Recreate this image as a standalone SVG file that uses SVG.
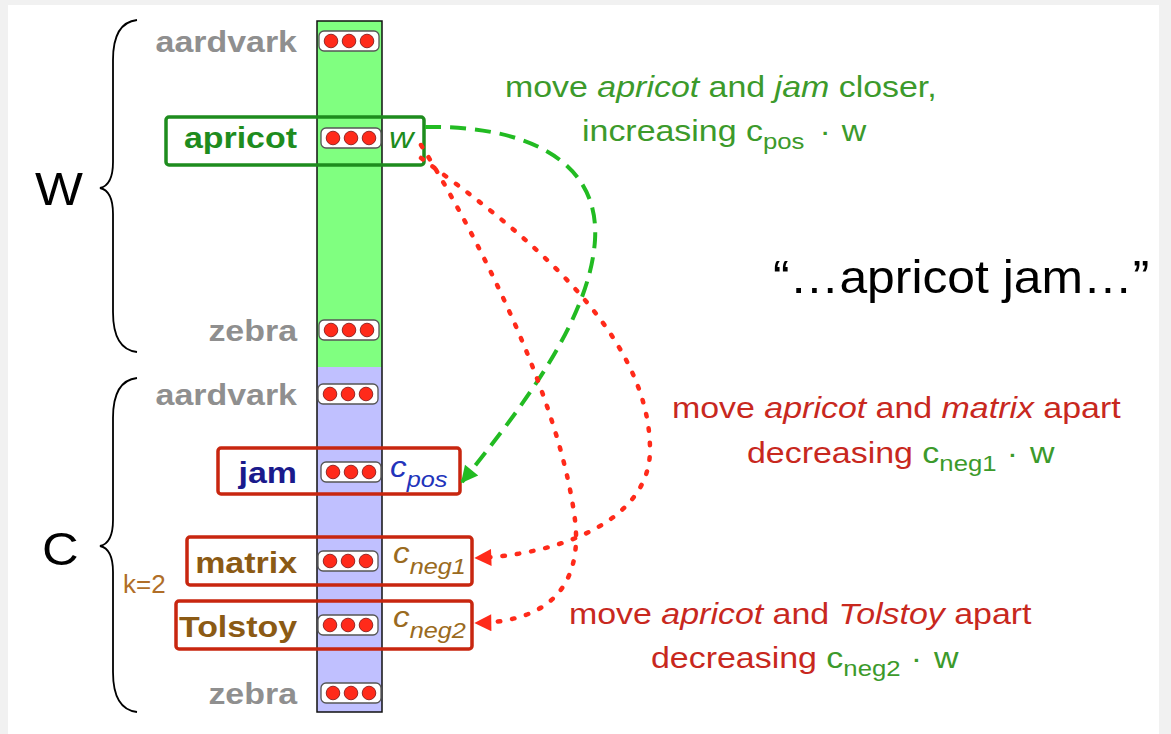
<svg xmlns="http://www.w3.org/2000/svg" width="1171" height="734" viewBox="0 0 1171 734">
<style>
text{font-family:"Liberation Sans",Arial,Helvetica,sans-serif}
.word{font-size:29px;font-weight:bold;text-anchor:end}
.gray{fill:#8f8f8f}
.lbl{font-size:29px}
.g{fill:#3c9a2b}
.r{fill:#c8281e}
.it{font-style:italic}
.sub{font-size:22px}
.box{fill:none;stroke-width:3.5}
.col{stroke:#111;stroke-width:1.5}
.brace{fill:none;stroke:#000;stroke-width:1.8}
.dot{fill:#ff2a1a;stroke:#7a1010;stroke-width:0.8}
.pillbg{fill:#fff;stroke:#555;stroke-width:1.3}
.pos{fill:none;stroke:#22bb22;stroke-width:4;stroke-dasharray:16 9}
.neg{fill:none;stroke:#ff2a1a;stroke-width:4.5;stroke-dasharray:2.5 12;stroke-linecap:round}
</style>
<defs>
<g id="pill">
<rect class="pillbg" x="-30" y="-10" width="60" height="20" rx="5"/>
<circle class="dot" cx="-18" cy="0" r="6.8"/>
<circle class="dot" cx="0" cy="0" r="6.8"/>
<circle class="dot" cx="18" cy="0" r="6.8"/>
</g>
<marker id="ag" viewBox="0 0 10 10" refX="9" refY="5" markerWidth="22" markerHeight="17" markerUnits="userSpaceOnUse" orient="auto">
<path d="M0,0 L10,5 L0,10 z" fill="#22bb22"/>
</marker>
<marker id="ar" viewBox="0 0 10 10" refX="9" refY="5" markerWidth="22" markerHeight="17" markerUnits="userSpaceOnUse" orient="auto">
<path d="M0,0 L10,5 L0,10 z" fill="#ff2a1a"/>
</marker>
</defs>
<rect x="0" y="0" width="1171" height="734" fill="#f1f1f1"/>
<rect x="8" y="5" width="1151" height="729" fill="#fff"/>

<g id="column">
<rect x="317" y="21" width="65" height="346" fill="#80ff80"/>
<rect x="317" y="367" width="65" height="345" fill="#c0c0ff"/>
<rect class="col" x="317" y="21" width="65" height="691" fill="none"/>
</g>

<g id="brace-W">
<path class="brace" d="M137,20 C119,22 113,38 113,60 L113,162 C113,178 109,186 100,188 C109,190 113,198 113,214 L113,312 C113,334 119,350 137,352"/>
<text font-size="47" transform="translate(35 205) scale(1.08 1)">W</text>
</g>
<g id="brace-C">
<path class="brace" d="M137,378 C119,380 113,396 113,418 L113,520 C113,536 109,544 100,546 C109,548 113,556 113,572 L113,672 C113,694 119,710 137,712"/>
<text font-size="47" transform="translate(42 565) scale(1.08 1)">C</text>
<text font-size="26" x="123" y="593" fill="#b06e28">k=2</text>
</g>

<g id="w-aardvark">
<text class="word gray" transform="translate(297 52) scale(1.17 1)">aardvark</text>
<use href="#pill" x="349" y="41"/>
</g>
<g id="w-apricot">
<rect class="box" x="166" y="117" width="258" height="48" rx="3" stroke="#1e8c1e"/>
<text class="word" fill="#1e8c1e" transform="translate(297 148) scale(1.17 1)">apricot</text>
<use href="#pill" x="351" y="138"/>
<text class="lbl it" fill="#1e8c1e" transform="translate(389 148) scale(1.17 1)">w</text>
</g>
<g id="w-zebra">
<text class="word gray" transform="translate(297 341) scale(1.17 1)">zebra</text>
<use href="#pill" x="349" y="330"/>
</g>
<g id="c-aardvark">
<text class="word gray" transform="translate(297 405) scale(1.17 1)">aardvark</text>
<use href="#pill" x="348" y="394"/>
</g>
<g id="c-jam">
<rect class="box" x="218" y="448" width="242" height="46" rx="3" stroke="#c8260f"/>
<text class="word" fill="#1a1a8c" transform="translate(297 483) scale(1.17 1)">jam</text>
<use href="#pill" x="351" y="472"/>
<text class="it" fill="#2233bb" font-size="29" transform="translate(390 477) scale(1.15 1)">c<tspan class="sub" dy="10">pos</tspan></text>
</g>
<g id="c-matrix">
<rect class="box" x="187" y="537" width="285" height="48" rx="3" stroke="#c8260f"/>
<text class="word" fill="#8b5a14" transform="translate(297 573) scale(1.17 1)">matrix</text>
<use href="#pill" x="348" y="561"/>
<text class="it" fill="#9a6a20" font-size="29" transform="translate(393 563) scale(1.15 1)">c<tspan class="sub" dy="11">neg1</tspan></text>
</g>
<g id="c-tolstoy">
<rect class="box" x="176" y="601" width="296" height="48" rx="3" stroke="#c8260f"/>
<text class="word" fill="#8b5a14" transform="translate(297 637) scale(1.17 1)">Tolstoy</text>
<use href="#pill" x="348" y="625"/>
<text class="it" fill="#9a6a20" font-size="29" transform="translate(393 627) scale(1.15 1)">c<tspan class="sub" dy="11">neg2</tspan></text>
</g>
<g id="c-zebra">
<text class="word gray" transform="translate(297 704) scale(1.17 1)">zebra</text>
<use href="#pill" x="351" y="693"/>
</g>

<g id="connectors">
<path class="pos" d="M425,127 C525,125 600,160 595,240 C590,320 520,410 462,482" marker-end="url(#ag)"/>
<path class="neg" d="M421,158 C520,230 650,330 650,450 C650,520 560,555 476,558" marker-end="url(#ar)"/>
<path class="neg" d="M421,145 C480,240 560,400 575,520 C582,580 555,622 476,623" marker-end="url(#ar)"/>
</g>

<g id="label-pos">
<text class="lbl g" transform="translate(505 97) scale(1.17 1)">move <tspan class="it">apricot</tspan> and <tspan class="it">jam</tspan> closer,</text>
<text class="lbl g" transform="translate(582 141) scale(1.17 1)">increasing c<tspan class="sub" dy="8">pos</tspan><tspan x="203" dy="-8">·</tspan><tspan x="222">w</tspan></text>
</g>
<g id="label-neg1">
<text class="lbl r" transform="translate(672 418) scale(1.17 1)">move <tspan class="it">apricot</tspan> and <tspan class="it">matrix</tspan> apart</text>
<text class="lbl r" transform="translate(747 463) scale(1.17 1)">decreasing <tspan class="g">c</tspan><tspan class="sub g" dy="8">neg1</tspan><tspan class="g" x="222" dy="-8">·</tspan><tspan class="g" x="242">w</tspan></text>
</g>
<g id="label-neg2">
<text class="lbl r" transform="translate(569 624) scale(1.17 1)">move <tspan class="it">apricot</tspan> and <tspan class="it">Tolstoy</tspan> apart</text>
<text class="lbl r" transform="translate(651 668) scale(1.17 1)">decreasing <tspan class="g">c</tspan><tspan class="sub g" dy="8">neg2</tspan><tspan class="g" x="222" dy="-8">·</tspan><tspan class="g" x="242">w</tspan></text>
</g>
<g id="quote">
<text font-size="47" transform="translate(773 293) scale(1.06 1)">“…apricot jam…”</text>
</g>
</svg>
